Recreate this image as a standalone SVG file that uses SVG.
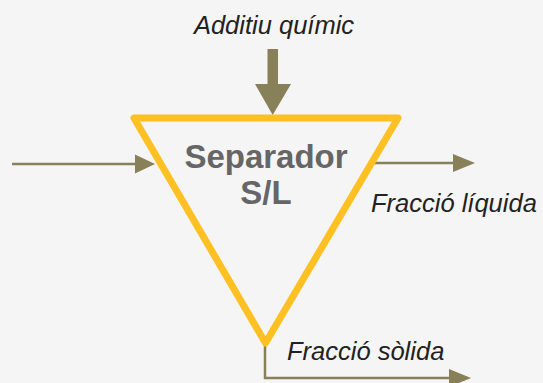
<svg xmlns="http://www.w3.org/2000/svg" width="543" height="383" viewBox="0 0 543 383">
<style>
.lbl{font-family:"Liberation Sans",Arial,sans-serif;font-style:italic;font-size:25.5px;fill:#222}
.title{font-family:"Liberation Sans",Arial,sans-serif;font-weight:bold;font-size:33px;fill:#666;text-anchor:middle}
.ln{stroke:#878058;stroke-width:2.5;fill:none}
.hd{fill:#878058}
</style>
<rect width="543" height="383" fill="#f5f5f5"/>
<g id="connectors">
<line class="ln" x1="12" y1="164" x2="140" y2="164"/>
<polygon class="hd" points="135,154.5 155,164 135,173.5"/>
<line class="ln" x1="372" y1="163" x2="456" y2="163"/>
<polygon class="hd" points="453,154 475,163 453,172"/>
<polyline class="ln" points="265,343 265,378 452,378"/>
<polygon class="hd" points="449,369 471,378 449,387"/>
<rect class="hd" x="267.5" y="49" width="10.5" height="36"/>
<polygon class="hd" points="255,84 291,84 272.7,115"/>
</g>
<g id="separador">
<polygon points="134,118 398,118 265.5,343" fill="none" stroke="#FEC022" stroke-width="7" stroke-linejoin="round"/>
<text class="title" x="266" y="168">Separador</text>
<text class="title" x="266" y="204">S/L</text>
</g>
<g id="labels">
<text class="lbl" x="274" y="34" text-anchor="middle">Additiu químic</text>
<text class="lbl" x="371" y="212">Fracció líquida</text>
<text class="lbl" x="287" y="360">Fracció sòlida</text>
</g>
</svg>
